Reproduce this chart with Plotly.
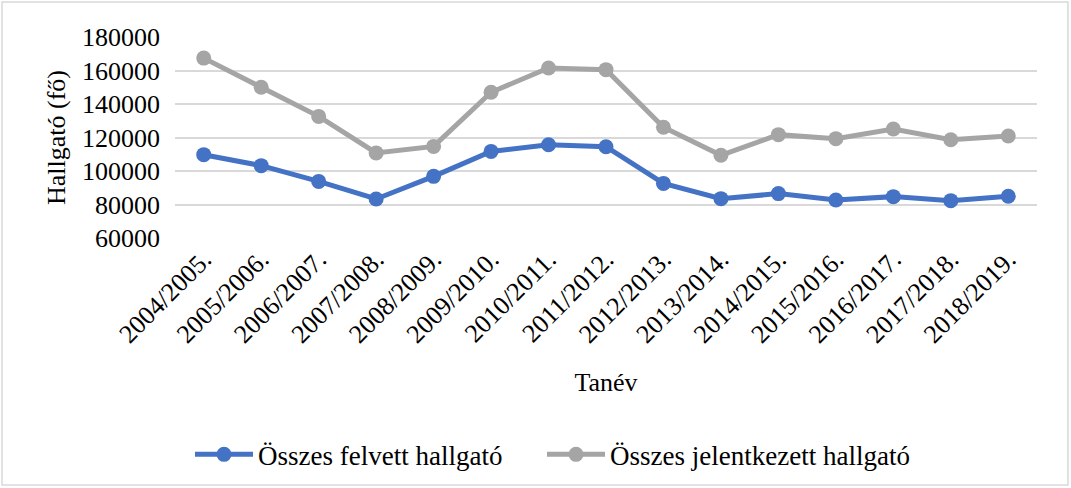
import plotly.graph_objects as go

categories = ["2004/2005.", "2005/2006.", "2006/2007.", "2007/2008.", "2008/2009.",
              "2009/2010.", "2010/2011.", "2011/2012.", "2012/2013.", "2013/2014.",
              "2014/2015.", "2015/2016.", "2016/2017.", "2017/2018.", "2018/2019."]
felvett = [109750, 103200, 93800, 83300, 96800, 111700, 115700, 114500,
           92600, 83500, 86500, 82700, 84700, 82300, 84900]
jelentkezett = [167400, 150000, 132600, 110800, 114700, 147000, 161500, 160500,
                126100, 109400, 121700, 119300, 125100, 118700, 120900]

W, H = 1071, 488
L, R, T, B = 175, 34, 37, 250
FONT = "Liberation Serif, serif"

fig = go.Figure()
fig.add_trace(go.Scatter(x=categories, y=felvett, mode="lines+markers",
                         name="Összes felvett hallgató", legend="legend",
                         line=dict(color="#4472C4", width=5),
                         marker=dict(size=15, color="#4472C4")))
fig.add_trace(go.Scatter(x=categories, y=jelentkezett, mode="lines+markers",
                         name="Összes jelentkezett hallgató", legend="legend2",
                         line=dict(color="#A5A5A5", width=5),
                         marker=dict(size=15, color="#A5A5A5")))

pw, ph = W - L - R, H - T - B
fig.add_shape(type="rect", xref="paper", yref="paper",
              x0=(2 - L) / pw, x1=(W - 3 - L) / pw,
              y0=-(H - 3 - T - ph) / ph, y1=1 + (T - 2) / ph,
              line=dict(color="#D9D9D9", width=1.5), layer="below")

legend_common = dict(orientation="h", xref="container", xanchor="left",
                     yref="container", y=0.068, yanchor="middle",
                     font=dict(family=FONT, size=27, color="black"), itemwidth=58,
                     bgcolor="rgba(0,0,0,0)")

fig.update_layout(
    template="none",
    width=W, height=H,
    margin=dict(l=L, r=R, t=T, b=B, autoexpand=False),
    plot_bgcolor="white", paper_bgcolor="white",
    font=dict(family=FONT, size=26, color="black"),
    showlegend=True,
    legend=dict(x=190 / W, **legend_common),
    legend2=dict(x=542 / W, **legend_common),
    xaxis=dict(type="category", range=[-0.5, 14.5], tickangle=-45, showgrid=False,
               showline=False, zeroline=False, ticks="",
               tickfont=dict(family=FONT, size=26),
               title=dict(text="Tanév", font=dict(family=FONT, size=26), standoff=25)),
    yaxis=dict(range=[60000, 180000], dtick=20000, showgrid=True,
               gridcolor="#D9D9D9", gridwidth=1.5, zeroline=False, showline=False,
               ticks="", tickformat="d", ticklabelstandoff=14,
               tickfont=dict(family=FONT, size=26),
               title=dict(text="Hallgató (fő)", font=dict(family=FONT, size=26), standoff=8)),
)

fig.write_html("out.html", config={"displayModeBar": False},
               post_script="document.body.style.margin='0';")
